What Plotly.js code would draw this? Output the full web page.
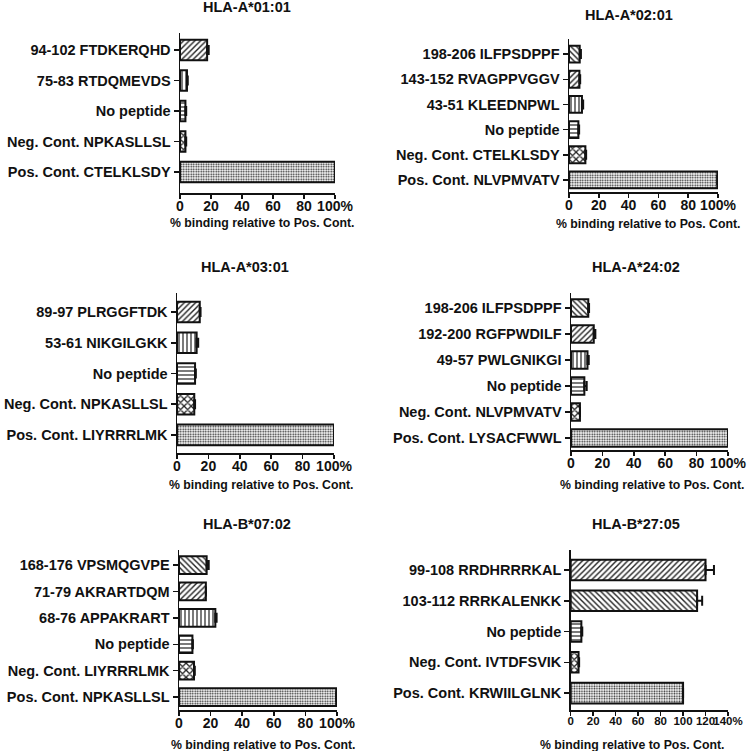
<!DOCTYPE html>
<html>
<head>
<meta charset="utf-8">
<script src="https://cdn.plot.ly/plotly-3.0.1.min.js"></script>
<style>html,body{margin:0;padding:0;background:#fff;}#chart{width:750px;height:751px;}</style>
</head>
<body>
<div id="chart"></div>
<script>
// ---- Data ----
const panelTitles = ["HLA-A*01:01", "HLA-A*02:01", "HLA-A*03:01", "HLA-A*24:02", "HLA-B*07:02", "HLA-B*27:05"];
const xAxisTitle = "% binding relative to Pos. Cont.";

const cats1 = ["94-102 FTDKERQHD", "75-83 RTDQMEVDS", "No peptide", "Neg. Cont. NPKASLLSL", "Pos. Cont. CTELKLSDY"];
const vals1 = [17.5, 4.5, 3.5, 3.5, 100];
const errs1 = [1.0, 0.5, 0.5, 0.5, 0];
const pats1 = ["/", "|", "-", "x", "."];

const cats2 = ["198-206 ILFPSDPPF", "143-152 RVAGPPVGGV", "43-51 KLEEDNPWL", "No peptide", "Neg. Cont. CTELKLSDY", "Pos. Cont. NLVPMVATV"];
const vals2 = [7.2, 7.0, 8.7, 6.3, 11.0, 99.5];
const errs2 = [0.8, 0.5, 0.8, 0.5, 0.5, 0];
const pats2 = ["\\", "/", "|", "-", "x", "."];

const cats3 = ["89-97 PLRGGFTDK", "53-61 NIKGILGKK", "No peptide", "Neg. Cont. NPKASLLSL", "Pos. Cont. LIYRRRLMK"];
const vals3 = [14.5, 12.5, 11.5, 11.0, 100];
const errs3 = [0.5, 1.0, 0.5, 0.5, 0];
const pats3 = ["/", "|", "-", "x", "."];

const cats4 = ["198-206 ILFPSDPPF", "192-200 RGFPWDILF", "49-57 PWLGNIKGI", "No peptide", "Neg. Cont. NLVPMVATV", "Pos. Cont. LYSACFWWL"];
const vals4 = [11.0, 14.5, 10.5, 8.5, 5.7, 100];
const errs4 = [0.5, 1.0, 0.8, 1.5, 0, 0];
const pats4 = ["\\", "/", "|", "-", "x", "."];

const cats5 = ["168-176 VPSMQGVPE", "71-79 AKRARTDQM", "68-76 APPAKRART", "No peptide", "Neg. Cont. LIYRRRLMK", "Pos. Cont. NPKASLLSL"];
const vals5 = [17.5, 17.0, 23.0, 8.5, 9.5, 99.5];
const errs5 = [1.3, 0, 0.8, 0.3, 0.5, 0];
const pats5 = ["\\", "/", "|", "-", "x", "."];

const cats6 = ["99-108 RRDHRRRKAL", "103-112 RRRKALENKK", "No peptide", "Neg. Cont. IVTDFSVIK", "Pos. Cont. KRWIILGLNK"];
const vals6 = [120, 112.5, 9.5, 7.0, 100];
const errs6 = [7.5, 4.5, 0.8, 0.5, 0];
const pats6 = ["/", "\\", "-", "x", "."];

const ticks100 = [0, 20, 40, 60, 80, 100];
const tickText100 = ["0", "20", "40", "60", "80", "100%"];
const ticks140 = [0, 20, 40, 60, 80, 100, 120, 140];
const tickText140 = ["0", "20", "40", "60", "80", "100", "120", "140%"];

// ---- Layout geometry (pixels in a 750x751 figure) ----
const W = 750, H = 751;
const geom = [
  {x0: 180, x1: 335, y0: 33, y1: 193, yr: [4.69, -0.56], title: [247, 7], atitle: [262, 223]},
  {x0: 569, x1: 718, y0: 39, y1: 192, yr: [5.48, -0.60], title: [629, 15], atitle: [648, 224]},
  {x0: 177, x1: 334, y0: 293, y1: 453, yr: [4.59, -0.62], title: [245, 267], atitle: [261, 485]},
  {x0: 571, x1: 728, y0: 293, y1: 450, yr: [5.46, -0.58], title: [636, 267], atitle: [652, 485]},
  {x0: 179, x1: 337, y0: 550, y1: 710, yr: [5.49, -0.57], title: [247, 524], atitle: [263, 745]},
  {x0: 570.7, x1: 728, y0: 550, y1: 710, yr: [4.55, -0.65], title: [636, 524], atitle: [632, 745]}
];

const allCats = [cats1, cats2, cats3, cats4, cats5, cats6];
const allVals = [vals1, vals2, vals3, vals4, vals5, vals6];
const allErrs = [errs1, errs2, errs3, errs4, errs5, errs6];
const allPats = [pats1, pats2, pats3, pats4, pats5, pats6];

const FONT = "Liberation Sans, Arial, Helvetica, sans-serif";

function patSize(p) {
  if (p === ".") return 2.5;
  if (p === "x") return 5;
  if (p === "|" || p === "-") return 4;
  return 4;
}
function patSolid(p) {
  if (p === ".") return 0.4;
  if (p === "x") return 0.45;
  if (p === "|" || p === "-") return 0.3;
  return 0.35;
}

const data = [];
const layout = {
  width: W, height: H,
  margin: {l: 0, r: 0, t: 0, b: 0},
  paper_bgcolor: "#fff", plot_bgcolor: "#fff",
  showlegend: false,
  font: {family: FONT, color: "#111", weight: 700},
  annotations: []
};

for (let i = 0; i < 6; i++) {
  const g = geom[i];
  const n = i + 1;
  const xa = n === 1 ? "x" : "x" + n;
  const ya = n === 1 ? "y" : "y" + n;
  const cats = allCats[i];
  data.push({
    type: "bar",
    orientation: "h",
    x: allVals[i],
    y: cats,
    xaxis: xa, yaxis: ya,
    width: 0.67,
    marker: {
      color: "#fff",
      line: {color: "#111", width: 2},
      pattern: {
        shape: allPats[i],
        fgcolor: "#222",
        bgcolor: "#fff",
        size: allPats[i].map(patSize),
        solidity: allPats[i].map(patSolid),
        fillmode: "replace"
      }
    },
    error_x: {
      type: "data", symmetric: false,
      array: allErrs[i],
      arrayminus: allErrs[i].map(() => 0),
      color: "#111", thickness: 2, width: 5
    },
    hoverinfo: "x+y"
  });
  const is140 = (i === 5);
  layout["xaxis" + (n === 1 ? "" : n)] = {
    domain: [g.x0 / W, g.x1 / W],
    anchor: ya,
    range: is140 ? [0, 140] : [0, 100],
    tickmode: "array",
    tickvals: is140 ? ticks140 : ticks100,
    ticktext: is140 ? tickText140 : tickText100,
    tickangle: 0,
    ticklabelstandoff: -4,
    showline: true, linecolor: "#111", linewidth: 1.5,
    ticks: "outside", ticklen: 4, tickwidth: 1.5, tickcolor: "#111",
    showgrid: false, zeroline: false,
    tickfont: {family: FONT, size: is140 ? 11.5 : 14, color: "#111", weight: 700},
    fixedrange: true
  };
  layout["yaxis" + (n === 1 ? "" : n)] = {
    domain: [1 - g.y1 / H, 1 - g.y0 / H],
    anchor: xa,
    type: "category",
    categoryorder: "array",
    categoryarray: cats,
    range: g.yr,
    showline: true, linecolor: "#111", linewidth: 1.5,
    ticks: "outside", ticklen: 5, tickwidth: 1.5, tickcolor: "#111",
    showgrid: false, zeroline: false,
    tickfont: {family: FONT, size: 14.5, color: "#111", weight: 700},
    fixedrange: true
  };
  layout.annotations.push({
    text: panelTitles[i], xref: "paper", yref: "paper",
    x: g.title[0] / W, y: 1 - g.title[1] / H,
    xanchor: "center", yanchor: "middle", showarrow: false,
    font: {family: FONT, size: 14.5, color: "#111", weight: 700}
  });
  layout.annotations.push({
    text: xAxisTitle, xref: "paper", yref: "paper",
    x: g.atitle[0] / W, y: 1 - g.atitle[1] / H,
    xanchor: "center", yanchor: "middle", showarrow: false,
    font: {family: FONT, size: 12.3, color: "#111", weight: 700}
  });
}

Plotly.newPlot("chart", data, layout, {displayModeBar: false, staticPlot: true});
</script>
</body>
</html>
